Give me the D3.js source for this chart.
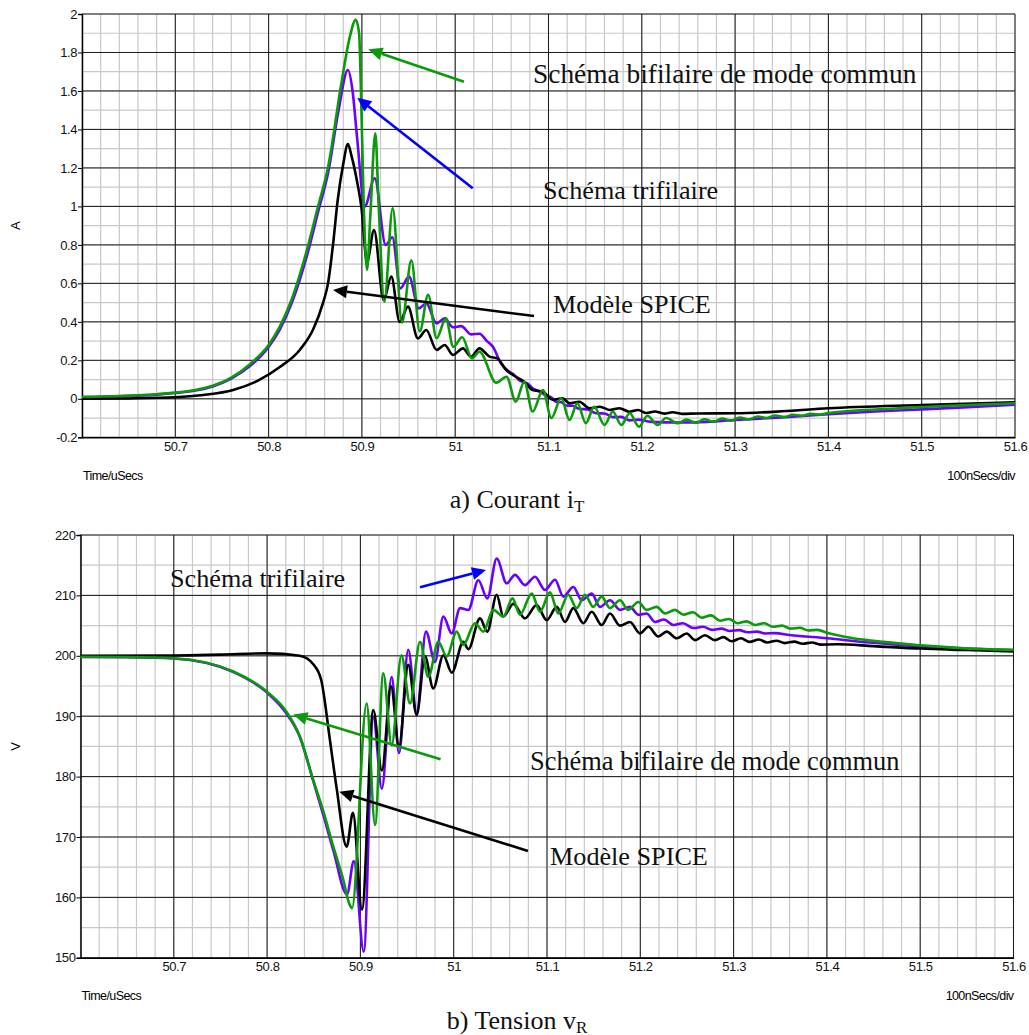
<!DOCTYPE html>
<html><head><meta charset="utf-8">
<script src="https://cdn.jsdelivr.net/npm/d3@7"></script>
<style>body{margin:0;background:#fff} svg{display:block}</style>
</head><body>
<svg id="c" width="1029" height="1035"></svg>
<script>
// ---------- DATA ----------
const timeTicks = [50.7, 50.8, 50.9, 51, 51.1, 51.2, 51.3, 51.4, 51.5, 51.6];
const timeTickLabels = ["50.7","50.8","50.9","51","51.1","51.2","51.3","51.4","51.5","51.6"];
const currentTicks = [-0.2, 0, 0.2, 0.4, 0.6, 0.8, 1, 1.2, 1.4, 1.6, 1.8, 2];
const currentTickLabels = ["-0.2","0","0.2","0.4","0.6","0.8","1","1.2","1.4","1.6","1.8","2"];
const voltageTicks = [150, 160, 170, 180, 190, 200, 210, 220];
const voltageTickLabels = ["150","160","170","180","190","200","210","220"];

// a) Courant iT  [time µs, A]
const iSpice = [[50.60,0.0],[50.65,0.002],[50.70,0.008],[50.73,0.02],[50.762,0.046],[50.79,0.098],[50.812,0.165],[50.8334,0.254],[50.8477,0.36],[50.8584,0.50],[50.8637,0.60],[50.869,0.80],[50.874,1.03],[50.880,1.22],[50.885,1.324],[50.889,1.26],[50.894,1.15],[50.8994,0.998],[50.9055,0.713],[50.913,0.877],[50.9233,0.513],[50.9315,0.635],[50.9405,0.40],[50.9494,0.479],[50.960,0.314],[50.969,0.358],[50.980,0.254],[50.9887,0.28],[50.9976,0.228],[51.0083,0.262],[51.017,0.219],[51.026,0.262],[51.0368,0.219],[51.045,0.21],[51.0547,0.15],[51.0618,0.124],[51.074,0.089],[51.083,0.046],[51.094,0.037],[51.105,-0.006],[51.115,0.003],[51.1225,-0.023],[51.133,-0.015],[51.144,-0.049],[51.155,-0.041],[51.166,-0.058],[51.176,-0.049],[51.187,-0.067],[51.196,-0.058],[51.205,-0.074],[51.214,-0.066],[51.224,-0.077],[51.233,-0.07],[51.243,-0.078],[51.26,-0.076],[51.3,-0.075],[51.35,-0.065],[51.4,-0.049],[51.5,-0.032],[51.6,-0.018]];
const iTri = [[50.60,0.008],[50.64,0.013],[50.68,0.022],[50.70,0.030],[50.72,0.042],[50.74,0.064],[50.76,0.105],[50.78,0.17],[50.80,0.27],[50.812,0.36],[50.825,0.50],[50.842,0.76],[50.853,0.97],[50.864,1.18],[50.875,1.50],[50.885,1.709],[50.890,1.60],[50.895,1.35],[50.903,1.0],[50.9137,1.146],[50.9255,0.80],[50.9326,0.84],[50.9412,0.574],[50.9505,0.635],[50.961,0.47],[50.969,0.496],[50.980,0.392],[50.9887,0.418],[50.9976,0.372],[51.0065,0.378],[51.017,0.335],[51.026,0.338],[51.034,0.30],[51.0404,0.27],[51.049,0.185],[51.058,0.14],[51.063,0.125],[51.069,0.095],[51.078,0.078],[51.083,0.055],[51.087,0.045],[51.092,0.035],[51.0975,0.015],[51.103,0.008],[51.108,-0.015],[51.114,-0.018],[51.119,-0.035],[51.126,-0.036],[51.133,-0.052],[51.142,-0.055],[51.151,-0.075],[51.16,-0.076],[51.169,-0.095],[51.178,-0.094],[51.187,-0.112],[51.196,-0.108],[51.21,-0.12],[51.24,-0.123],[51.27,-0.12],[51.30,-0.11],[51.35,-0.097],[51.40,-0.08],[51.45,-0.066],[51.50,-0.055],[51.55,-0.043],[51.60,-0.03]];
const iBif = [[50.60,0.010],[50.64,0.015],[50.68,0.024],[50.70,0.032],[50.72,0.045],[50.74,0.068],[50.76,0.11],[50.78,0.18],[50.80,0.28],[50.812,0.375],[50.825,0.52],[50.842,0.79],[50.853,1.0],[50.864,1.21],[50.878,1.64],[50.887,1.88],[50.8934,1.97],[50.897,1.90],[50.899,1.6],[50.902,1.0],[50.9055,0.67],[50.909,0.95],[50.9144,1.38],[50.918,1.0],[50.924,0.505],[50.933,0.99],[50.943,0.396],[50.953,0.72],[50.962,0.35],[50.971,0.54],[50.980,0.315],[50.990,0.418],[50.998,0.27],[51.0075,0.32],[51.018,0.21],[51.026,0.245],[51.044,0.084],[51.055,0.115],[51.065,-0.015],[51.074,0.089],[51.083,-0.067],[51.094,0.046],[51.103,-0.10],[51.1136,0.003],[51.1225,-0.11],[51.131,-0.023],[51.140,-0.127],[51.149,-0.041],[51.160,-0.136],[51.169,-0.067],[51.178,-0.136],[51.187,-0.075],[51.197,-0.145],[51.206,-0.088],[51.217,-0.136],[51.226,-0.10],[51.2385,-0.127],[51.248,-0.108],[51.258,-0.125],[51.267,-0.106],[51.277,-0.12],[51.286,-0.102],[51.296,-0.114],[51.305,-0.097],[51.315,-0.107],[51.324,-0.092],[51.334,-0.1],[51.343,-0.087],[51.353,-0.094],[51.362,-0.083],[51.372,-0.088],[51.381,-0.078],[51.391,-0.082],[51.40,-0.074],[51.476,-0.049],[51.6,-0.023]];

// b) Tension vR  [time µs, V]
const vSpice = [[50.6,200.0],[50.7,200.05],[50.75,200.2],[50.80,200.4],[50.835,200.0],[50.8495,198.6],[50.858,196],[50.8674,186],[50.8746,178],[50.8853,168.4],[50.892,174],[50.9017,158],[50.9138,191],[50.923,181],[50.9328,195],[50.9414,185],[50.9513,198.5],[50.9603,190.2],[50.9692,199.9],[50.9781,194.6],[50.9889,200.1],[50.9979,197.2],[51.0103,202.3],[51.0157,201.1],[51.0282,206.2],[51.036,204],[51.0461,210.1],[51.0532,206.5],[51.0639,208.6],[51.0764,206.2],[51.0889,208.4],[51.0997,205.9],[51.1104,208.1],[51.1193,205.6],[51.1282,207.9],[51.1389,205.4],[51.1479,207.3],[51.1586,205.1],[51.1675,207],[51.1782,205.0],[51.1889,205.6],[51.1996,203.7],[51.2086,204.8],[51.2193,203.2],[51.2283,204],[51.239,202.9],[51.2497,203.7],[51.2586,202.6],[51.2693,203.4],[51.28,202.6],[51.289,203.1],[51.298,202.4],[51.308,202.9],[51.317,202.3],[51.327,202.7],[51.336,202.2],[51.346,202.5],[51.355,202.1],[51.365,202.35],[51.374,202.0],[51.384,202.2],[51.393,201.85],[51.41,201.9],[51.45,201.6],[51.5,201.2],[51.55,200.95],[51.6,200.7]];
const vTri = [[50.6,199.8],[50.65,199.75],[50.7,199.55],[50.764,197.3],[50.80,193.9],[50.82,190.6],[50.835,186.6],[50.85,179],[50.86,173.8],[50.871,167.8],[50.8856,160.5],[50.893,166],[50.9036,151],[50.9138,189.9],[50.923,178],[50.9335,196.5],[50.9414,183.9],[50.9513,201],[50.9603,190.5],[50.9703,204],[50.9799,199],[50.9889,206.5],[50.9979,203.7],[51.0068,207.9],[51.0157,207.6],[51.0264,212.5],[51.036,209.5],[51.0461,216.1],[51.0568,212],[51.0657,213.4],[51.0764,211.7],[51.0871,213.1],[51.0979,210.9],[51.1086,212.6],[51.1175,209.8],[51.1282,211.4],[51.1372,209.2],[51.1479,210.3],[51.1568,208.1],[51.1675,209.2],[51.1782,207.6],[51.1889,208.1],[51.1979,206.8],[51.2068,207],[51.2158,205.6],[51.2254,206],[51.2354,205.1],[51.2458,205.4],[51.2568,204.6],[51.2672,204.8],[51.277,204.3],[51.287,204.5],[51.296,204.1],[51.306,204.25],[51.315,203.9],[51.325,204.0],[51.334,203.7],[51.344,203.75],[51.36,203.45],[51.4,202.9],[51.446,202.2],[51.496,201.6],[51.548,201.2],[51.6,200.9]];
const vBif = [[50.6,199.85],[50.65,199.8],[50.7,199.6],[50.7638,197.4],[50.7996,194.1],[50.82,190.9],[50.8353,186.6],[50.8495,179.4],[50.86,174.4],[50.871,168.4],[50.8817,162.9],[50.888,159],[50.891,158.2],[50.9067,192.1],[50.9157,172],[50.9245,197.1],[50.9335,185.2],[50.944,200.1],[50.9532,192.1],[50.9639,202.3],[50.9728,196.5],[50.9835,202.3],[50.9925,199.9],[51.0032,204],[51.0103,201.8],[51.0228,205.4],[51.0317,204],[51.0424,207.6],[51.0532,206.5],[51.063,209.5],[51.0711,206.8],[51.0836,210.3],[51.0925,207.3],[51.1032,210.5],[51.1121,207],[51.1228,210.1],[51.1318,207.9],[51.1407,210.1],[51.1496,208.1],[51.1586,209.8],[51.1675,207.9],[51.1782,209.2],[51.1871,207.6],[51.1979,208.9],[51.2068,207.6],[51.2176,208.1],[51.2265,207],[51.2372,207.6],[51.2461,206.8],[51.2565,207.2],[51.2658,206.3],[51.2758,206.7],[51.2854,205.8],[51.295,206.1],[51.304,205.4],[51.314,205.7],[51.323,205.1],[51.333,205.4],[51.342,204.8],[51.352,205.0],[51.361,204.5],[51.371,204.65],[51.38,204.2],[51.39,204.3],[51.40,203.8],[51.425,203.0],[51.46,202.3],[51.496,201.8],[51.532,201.4],[51.568,201.1],[51.6,201.0]];

// ---------- STYLE / LAYOUT ----------
const COL_SPICE = "#000000", COL_TRI = "#6a00ff", COL_BIF = "#0a9a0a", COL_BLUE = "#0000ff";
const SANS = "'Liberation Sans', Arial, sans-serif";
const SERIF = "'Liberation Serif', 'Times New Roman', serif";

const panels = [
  { rect:{left:82, right:1015, top:14, bottom:437.3}, yDomain:[-0.2,2], yTicks:currentTicks, yLabels:currentTickLabels,
    yMinorStep:0.1, yName:"A", spice:iSpice, tri:iTri, bif:iBif,
    caption:["a) Courant i","T"],
    texts:[{t:"Schéma bifilaire de mode commun", x:533, y:83, fs:27.4},{t:"Schéma trifilaire", x:543, y:199, fs:26.2},{t:"Modèle SPICE", x:553, y:312.5, fs:26.2}],
    arrows:[{from:[51.0094,1.648], to:[50.9069,1.8165], c:COL_BIF},
            {from:[51.0188,1.094], to:[50.895,1.565], c:COL_BLUE},
            {from:[51.0845,0.430], to:[50.869,0.566], c:COL_SPICE}] },
  { rect:{left:80.5, right:1013.5, top:535, bottom:957.8}, yDomain:[150,220], yTicks:voltageTicks, yLabels:voltageTickLabels,
    yMinorStep:5, yName:"V", spice:vSpice, tri:vTri, bif:vBif,
    caption:["b) Tension v","R"],
    texts:[{t:"Schéma trifilaire", x:170, y:586.5, fs:26.2},{t:"Schéma bifilaire de mode commun", x:530, y:770, fs:26.4},{t:"Modèle SPICE", x:550, y:865, fs:26.2}],
    arrows:[{from:[50.9639,211.34], to:[51.0346,214.2], c:COL_BLUE},
            {from:[50.9859,182.86], to:[50.8281,190.28], c:COL_BIF},
            {from:[51.0796,167.68], to:[50.8774,177.5], c:COL_SPICE}] }
];

const svg = d3.select("#c");
svg.append("rect").attr("width",1029).attr("height",1035).attr("fill","#fff");

panels.forEach(p => {
  const r = p.rect;
  const x = d3.scaleLinear().domain([50.6, 51.6]).range([r.left, r.right]);
  const y = d3.scaleLinear().domain(p.yDomain).range([r.bottom, r.top]);
  const g = svg.append("g");

  // minor grid
  const xMinor = d3.range(0, 51).map(i => 50.6 + i*0.02);
  const nY = Math.round((p.yDomain[1]-p.yDomain[0])/p.yMinorStep);
  const yMinor = d3.range(0, nY+1).map(i => p.yDomain[0] + i*p.yMinorStep);
  g.append("g").selectAll("line").data(xMinor).join("line")
    .attr("x1", d => x(d)).attr("x2", d => x(d)).attr("y1", r.top).attr("y2", r.bottom)
    .attr("stroke", "#c8c8c8").attr("stroke-width", 1.2);
  g.append("g").selectAll("line").data(yMinor).join("line")
    .attr("x1", r.left).attr("x2", r.right).attr("y1", d => y(d)).attr("y2", d => y(d))
    .attr("stroke", "#c8c8c8").attr("stroke-width", 1.2);
  // major grid
  g.append("g").selectAll("line").data(timeTicks).join("line")
    .attr("x1", d => x(d)).attr("x2", d => x(d)).attr("y1", r.top).attr("y2", r.bottom)
    .attr("stroke", "#1a1a1a").attr("stroke-width", 1);
  g.append("g").selectAll("line").data(p.yTicks).join("line")
    .attr("x1", r.left).attr("x2", r.right).attr("y1", d => y(d)).attr("y2", d => y(d))
    .attr("stroke", "#1a1a1a").attr("stroke-width", 1);

  // axes
  const ya = d3.axisLeft(y).tickValues(p.yTicks).tickSize(4).tickPadding(1)
    .tickFormat((d,i) => p.yLabels[i]);
  const yg = g.append("g").attr("transform", `translate(${r.left},0)`).call(ya);
  yg.select(".domain").attr("stroke","#000").attr("stroke-width",1.5);
  yg.selectAll(".tick line").attr("stroke","#000");
  yg.selectAll("text").attr("font-family", SANS).attr("font-size", 13).attr("fill","#111").attr("letter-spacing","-0.4");

  const xa = d3.axisBottom(x).tickValues(timeTicks).tickSize(0).tickPadding(4)
    .tickFormat((d,i) => timeTickLabels[i]);
  const xg = g.append("g").attr("transform", `translate(0,${r.bottom})`).call(xa);
  xg.select(".domain").attr("stroke","#000").attr("stroke-width",1.5);
  xg.selectAll("text").attr("font-family", SANS).attr("font-size", 13).attr("fill","#111").attr("letter-spacing","-0.4");

  // y name
  g.append("text").attr("transform", `translate(20,${(r.top+r.bottom)/2}) rotate(-90)`)
    .attr("text-anchor","middle").attr("font-family", SANS).attr("font-size", 13).text(p.yName);
  // footer labels
  g.append("text").attr("x", r.left+1).attr("y", r.bottom+42.5).attr("font-family", SANS).attr("font-size", 12.5)
    .attr("letter-spacing","-0.6").text("Time/uSecs");
  g.append("text").attr("x", r.right).attr("y", r.bottom+42.5).attr("text-anchor","end").attr("font-family", SANS)
    .attr("font-size", 12.5).attr("letter-spacing","-0.6").text("100nSecs/div");

  // curves
  const line = d3.line().x(d => x(d[0])).y(d => y(d[1])).curve(d3.curveMonotoneX);
  const cg = g.append("g").attr("fill","none").attr("stroke-width",2.6).attr("stroke-linejoin","round");
  cg.append("path").datum(p.tri).attr("d", line).attr("stroke", COL_TRI);
  cg.append("path").datum(p.spice).attr("d", line).attr("stroke", COL_SPICE);
  cg.append("path").datum(p.bif).attr("d", line).attr("stroke", COL_BIF);

  // annotation arrows
  p.arrows.forEach(a => {
    const x1 = x(a.from[0]), y1 = y(a.from[1]), x2 = x(a.to[0]), y2 = y(a.to[1]);
    const ang = Math.atan2(y2-y1, x2-x1), L = 14, W = 6.5;
    const bx = x2 - L*Math.cos(ang), by = y2 - L*Math.sin(ang);
    g.append("line").attr("x1",x1).attr("y1",y1).attr("x2",bx).attr("y2",by)
      .attr("stroke", a.c).attr("stroke-width", 2.6);
    const pts = [[x2,y2],[bx + W*Math.sin(ang), by - W*Math.cos(ang)],[bx - W*Math.sin(ang), by + W*Math.cos(ang)]];
    g.append("polygon").attr("points", pts.map(q=>q.join(",")).join(" ")).attr("fill", a.c);
  });
  // annotation texts
  p.texts.forEach(t => {
    g.append("text").attr("x", t.x).attr("y", t.y).attr("font-family", SERIF).attr("font-size", t.fs)
      .attr("fill","#111").text(t.t);
  });
  // caption
  const cap = g.append("text").attr("x", 517).attr("y", r.bottom + 70.7).attr("text-anchor","middle")
    .attr("font-family", SERIF).attr("font-size", 26).attr("fill","#111");
  cap.append("tspan").text(p.caption[0]);
  cap.append("tspan").attr("font-size", 17).attr("dy", 4).text(p.caption[1]);
});
</script>
</body></html>
